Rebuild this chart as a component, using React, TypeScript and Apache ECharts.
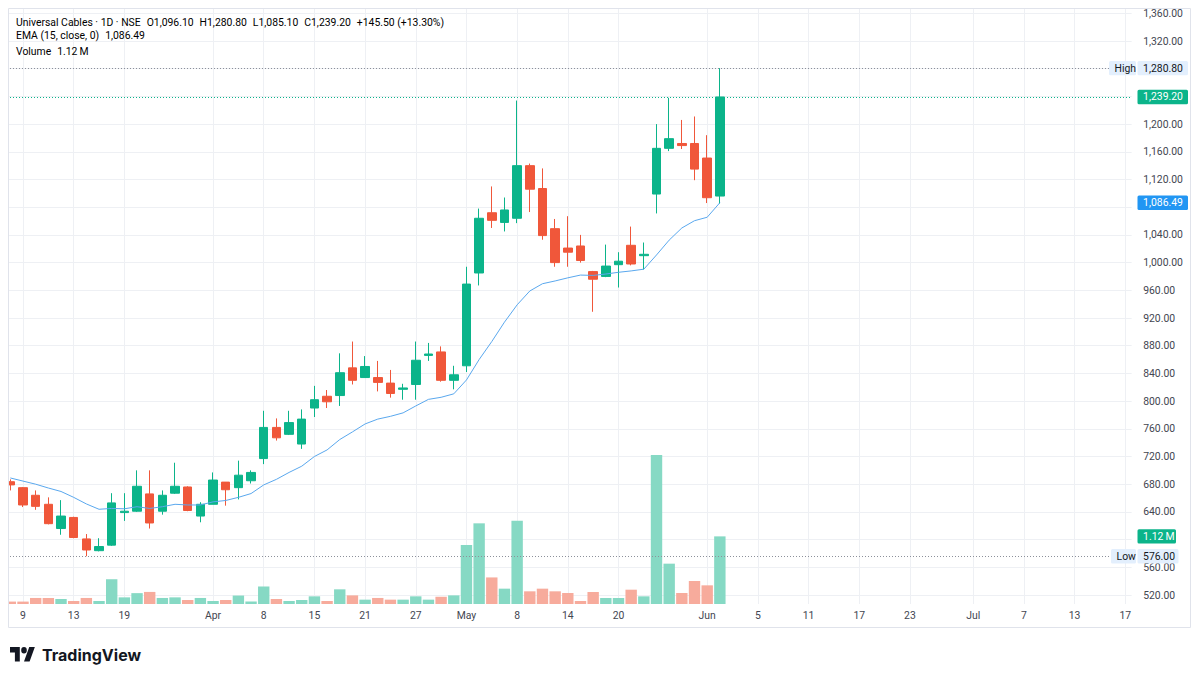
import React, { useEffect, useRef } from "react";
import * as echarts from "echarts";

// Daily sessions shown (NSE trading days)
const tradingDays = [
  "2026-03-06", "2026-03-09", "2026-03-10", "2026-03-11", "2026-03-12", "2026-03-13",
  "2026-03-16", "2026-03-17", "2026-03-18", "2026-03-19", "2026-03-20", "2026-03-23",
  "2026-03-24", "2026-03-25", "2026-03-27", "2026-03-30", "2026-04-01", "2026-04-02",
  "2026-04-06", "2026-04-07", "2026-04-08", "2026-04-09", "2026-04-10", "2026-04-13",
  "2026-04-15", "2026-04-16", "2026-04-17", "2026-04-20", "2026-04-21", "2026-04-22",
  "2026-04-23", "2026-04-24", "2026-04-27", "2026-04-28", "2026-04-29", "2026-04-30",
  "2026-05-04", "2026-05-05", "2026-05-06", "2026-05-07", "2026-05-08", "2026-05-11",
  "2026-05-12", "2026-05-13", "2026-05-14", "2026-05-15", "2026-05-18", "2026-05-19",
  "2026-05-20", "2026-05-21", "2026-05-22", "2026-05-25", "2026-05-26", "2026-05-27",
  "2026-05-29", "2026-06-01", "2026-06-02",
];

// Empty sessions to the right of the last bar
const futureDays = [
  "2026-06-03", "2026-06-04", "2026-06-05", "2026-06-08", "2026-06-09", "2026-06-10",
  "2026-06-11", "2026-06-12", "2026-06-15", "2026-06-16", "2026-06-17", "2026-06-18",
  "2026-06-19", "2026-06-22", "2026-06-23", "2026-06-24", "2026-06-25", "2026-06-29",
  "2026-06-30", "2026-07-01", "2026-07-02", "2026-07-03", "2026-07-06", "2026-07-07",
  "2026-07-08", "2026-07-09", "2026-07-10", "2026-07-13", "2026-07-14", "2026-07-15",
  "2026-07-16", "2026-07-17",
];

const opens = [
  683.6, 675, 664, 651, 616, 632, 601, 584, 592, 639, 641, 666, 641, 667, 676, 634,
  651, 683, 675, 685, 717, 762, 752, 738, 790, 807, 808, 848, 834, 834, 826, 817,
  824, 866, 871, 830, 851, 985, 1072, 1058, 1064, 1140, 1107, 1049, 1021, 1024, 987, 980,
  997, 1025, 1010, 1099, 1165, 1172, 1172, 1151, 1096.1,
];
const highs = [
  687, 676, 671, 661, 657, 633, 608, 602, 667, 667, 700, 700, 671, 711, 677, 654,
  697, 683, 714, 700, 786, 775, 786, 788, 822, 816, 869, 886, 865, 858, 845, 825,
  886, 884, 879, 851, 994, 1078, 1110, 1094, 1234, 1143, 1136, 1063, 1067, 1040, 988, 1026,
  1015, 1052, 1029, 1200, 1238, 1206, 1211, 1184, 1280.8,
];
const lows = [
  671, 647, 643, 622, 607, 602, 576, 583, 591, 627, 640, 616, 636, 666, 641, 625,
  651, 649, 658, 681, 709, 743, 751, 731, 777, 790, 793, 824, 834, 814, 805, 802,
  802, 858, 828, 817, 842, 967, 1050, 1045, 1057, 1073, 1033, 994, 994, 1000, 929, 979,
  964, 996, 990, 1071, 1161, 1164, 1119, 1086, 1085.1,
];
const closes = [
  679, 650, 648, 623, 634, 603, 585, 590, 653, 641, 677, 624, 664, 677, 642, 651,
  686, 672, 693, 697, 762, 747, 769, 774, 802, 799, 841, 830, 850, 827, 811, 819,
  859, 868, 830, 838, 969, 1064, 1061, 1076, 1140, 1106, 1039, 1000, 1015, 1003, 976, 995,
  1002, 998, 1012, 1165, 1179, 1169, 1135, 1093.7, 1239.2,
];

// EMA (15, close)
const emaValues = [
  689, 684.5, 680, 674.5, 669.5, 661, 651.5, 643.8, 645, 644.5, 647.5, 645, 647.5, 651, 650, 650,
  654.5, 656.5, 661, 666.5, 679, 687, 697, 706, 720, 729.5, 744.5, 755.5, 767, 774, 778, 783,
  793, 802.5, 805.5, 810.5, 830.5, 860, 886, 914, 939, 959, 969.5, 973.5, 978, 982, 981.5, 983.5,
  986, 988, 990.5, 1011, 1032.5, 1050, 1060.5, 1065.5, 1086.49,
];

// Volume, millions of shares
const volumes = [
  0.04, 0.04, 0.1, 0.1, 0.083, 0.05, 0.1, 0.05, 0.41, 0.11, 0.18, 0.2, 0.1, 0.11, 0.066, 0.1,
  0.05, 0.066, 0.14, 0.04, 0.29, 0.083, 0.05, 0.066, 0.127, 0.05, 0.243, 0.143, 0.072, 0.1, 0.072, 0.072,
  0.127, 0.072, 0.12, 0.143, 0.977, 1.336, 0.44, 0.254, 1.38, 0.21, 0.254, 0.21, 0.182, 0.05, 0.199, 0.099,
  0.099, 0.237, 0.127, 2.467, 0.668, 0.182, 0.381, 0.309, 1.12,
];

// Time-scale labels
const timeTicks: [string, string][] = [
  ["2026-03-09", "9"], ["2026-03-13", "13"], ["2026-03-19", "19"], ["2026-04-01", "Apr"],
  ["2026-04-08", "8"], ["2026-04-15", "15"], ["2026-04-21", "21"], ["2026-04-27", "27"],
  ["2026-05-04", "May"], ["2026-05-08", "8"], ["2026-05-14", "14"], ["2026-05-20", "20"],
  ["2026-06-01", "Jun"], ["2026-06-05", "5"], ["2026-06-11", "11"], ["2026-06-17", "17"],
  ["2026-06-23", "23"], ["2026-07-01", "Jul"], ["2026-07-07", "7"], ["2026-07-13", "13"],
  ["2026-07-17", "17"],
];

const SYMBOL = "Universal Cables · 1D · NSE";
const EMA_TITLE = "EMA (15, close, 0)";

const UP = "#0bb48a";
const DOWN = "#f0573a";
const UP_VOL = "#86d9c4";
const DOWN_VOL = "#f7ab9c";
const EMA_COLOR = "#5aa8ee";
const TEXT = "#434651";
const GRID = "#eef0f4";
const FONT = "Roboto, 'Noto Sans', sans-serif";
const FS = 10.4;

const fmt = (v: number) =>
  v.toLocaleString("en-US", { minimumFractionDigits: 2, maximumFractionDigits: 2 });

export default function App() {
  const ref = useRef<HTMLDivElement>(null);

  useEffect(() => {
    if (!ref.current) return;
    const chart = echarts.init(ref.current, null, { renderer: "svg" });

    const allDays = tradingDays.concat(futureDays);
    const tickMap = new Map(timeTicks);
    const barSlot = 12.67;
    const plotLeft = 4;
    const plotWidth = allDays.length * barSlot;
    const last = closes.length - 1;
    const hi = Math.max(...highs);
    const lo = Math.min(...lows);

    const priceLabel = {
      color: TEXT,
      fontSize: FS,
      fontFamily: FONT,
      margin: 11.5,
      align: "left",
    };

    chart.setOption({
      animation: false,
      grid: [
        { left: plotLeft, width: plotWidth, top: 13.3, height: 581.7 },
        { left: plotLeft, width: plotWidth, top: 8, height: 596 },
      ],
      xAxis: [
        {
          type: "category",
          gridIndex: 0,
          data: allDays,
          boundaryGap: true,
          show: false,
        },
        {
          type: "category",
          gridIndex: 1,
          data: allDays,
          boundaryGap: true,
          axisLine: { show: false },
          axisTick: { show: false },
          splitLine: { show: false },
          axisLabel: {
            interval: (_i: number, v: string) => tickMap.has(v),
            formatter: (v: string) => tickMap.get(v) ?? "",
            color: TEXT,
            fontSize: FS,
            fontFamily: FONT,
            margin: 6,
          },
        },
      ],
      yAxis: [
        {
          type: "value",
          gridIndex: 0,
          position: "right",
          min: 520,
          max: 1360,
          interval: 40,
          axisLine: { show: false },
          axisTick: { show: false },
          axisLabel: { ...priceLabel, formatter: (v: number) => fmt(v) },
          splitLine: { lineStyle: { color: GRID, width: 1 } },
        },
        {
          type: "value",
          gridIndex: 1,
          min: 0,
          max: 9.87,
          show: false,
        },
      ],
      series: [
        {
          // vertical time grid lines
          type: "line",
          xAxisIndex: 1,
          yAxisIndex: 1,
          data: [],
          z: 0,
          markLine: {
            z: 0,
            silent: true,
            symbol: ["none", "none"],
            label: { show: false },
            lineStyle: { color: GRID, width: 1, type: "solid" },
            data: timeTicks.map(([d]) => ({ xAxis: d })),
          },
        },
        {
          type: "bar",
          name: "Volume",
          xAxisIndex: 1,
          yAxisIndex: 1,
          barWidth: 11.4,
          z: 1,
          data: volumes.map((v, i) => ({
            value: v,
            itemStyle: { color: closes[i] >= opens[i] ? UP_VOL : DOWN_VOL },
          })),
        },
        {
          type: "candlestick",
          name: "Universal Cables",
          xAxisIndex: 0,
          yAxisIndex: 0,
          barWidth: 9,
          z: 3,
          data: opens.map((o, i) => [o, closes[i], lows[i], highs[i]]),
          itemStyle: {
            color: UP,
            color0: DOWN,
            borderColor: UP,
            borderColor0: DOWN,
            borderWidth: 1,
          },
          markLine: {
            silent: true,
            symbol: ["none", "none"],
            label: { show: false },
            data: [
              { yAxis: hi, lineStyle: { color: "#8c909a", width: 1, type: [1, 2] } },
              { yAxis: closes[last], lineStyle: { color: UP, width: 1, type: [1, 2] } },
              { yAxis: lo, lineStyle: { color: "#8c909a", width: 1, type: [1, 2] } },
            ],
          },
        },
        {
          type: "line",
          name: "EMA",
          xAxisIndex: 0,
          yAxisIndex: 0,
          data: emaValues,
          showSymbol: false,
          z: 4,
          lineStyle: { color: EMA_COLOR, width: 1 },
        },
      ],
    });

    const py = (v: number) => chart.convertToPixel({ yAxisIndex: 0 }, v) as number;
    const vy = (v: number) => chart.convertToPixel({ yAxisIndex: 1 }, v) as number;

    // Y positions of the price-scale badges; scale labels under them are hidden
    const badgeYs = [py(hi), py(closes[last]), py(emaValues[last]), vy(volumes[last]), py(lo)];
    const coveredByBadge = (v: number) => badgeYs.some((y) => Math.abs(py(v) - y) < 11);

    const badge = (x: number, yc: number, w: number, text: string, bg: string, fg: string) => [
      { type: "rect", z: 100, shape: { x, y: yc - 7.2, width: w, height: 14.4, r: 1.5 }, style: { fill: bg } },
      {
        type: "text",
        z: 101,
        style: { x: x + 5.6, y: yc, text, fill: fg, fontSize: FS, fontFamily: FONT, align: "left", verticalAlign: "middle" },
      },
    ];

    const change = closes[last] - closes[last - 1];
    const pct = (change / closes[last - 1]) * 100;
    const sign = change >= 0 ? "+" : "";
    const volText = `${volumes[last].toFixed(2)}\u2009M`;

    const richBase = { fontSize: FS, fontFamily: FONT };
    const rich = {
      t: { ...richBase, color: TEXT },
      k: { ...richBase, color: TEXT, padding: [0, 0, 0, 6] },
      g: { ...richBase, color: UP },
      c: { ...richBase, color: UP, padding: [0, 0, 0, 6] },
      b: { ...richBase, color: "#2196f3", padding: [0, 0, 0, 6] },
    };

    const logoPath =
      "M14 22H7V11H0V4h14v18zM28 22h-8l7.5-18h8L28 22zM16 8a4 4 0 1 0 8 0a4 4 0 1 0 -8 0z";
    echarts.graphic.registerShape("tvlogo", echarts.graphic.extendPath(logoPath, {}) as any);

    chart.setOption({
      yAxis: [
        {
          axisLabel: {
            ...priceLabel,
            formatter: (v: number) => (coveredByBadge(v) ? "" : fmt(v)),
          },
        },
        {},
      ],
      graphic: [
        // clip the first, partly hidden bar at the pane edge
        { type: "rect", z: 90, shape: { x: 0, y: 0, width: 8, height: 640 }, style: { fill: "#ffffff" } },
        { type: "rect", z: 90, shape: { x: 0, y: 0, width: 1200, height: 8 }, style: { fill: "#ffffff" } },
        {
          type: "rect",
          z: 95,
          shape: { x: 8.5, y: 8.5, width: 1182, height: 619 },
          style: { fill: "none", stroke: "#e0e3eb", lineWidth: 1 },
        },
        {
          type: "text",
          z: 110,
          style: {
            x: 16,
            y: 22,
            verticalAlign: "middle",
            text:
              `{t|${SYMBOL}}{k|O}{g|${fmt(opens[last])}}{k|H}{g|${fmt(highs[last])}}` +
              `{k|L}{g|${fmt(lows[last])}}{k|C}{g|${fmt(closes[last])}}` +
              `{c|${sign}${fmt(change)} (${sign}${pct.toFixed(2)}%)}`,
            rich,
          },
        },
        {
          type: "text",
          z: 110,
          style: { x: 16, y: 35.5, verticalAlign: "middle", text: `{t|${EMA_TITLE}}{b|${fmt(emaValues[last])}}`, rich },
        },
        {
          type: "text",
          z: 110,
          style: { x: 16, y: 51, verticalAlign: "middle", text: `{t|Volume}{c|${volText}}`, rich },
        },
        ...badge(1109, py(hi), 27, "High", "#e3effd", "#131722"),
        ...badge(1137.5, py(hi), 50.5, fmt(hi), "#e3effd", "#131722"),
        ...badge(1137.5, py(closes[last]), 50.5, fmt(closes[last]), UP, "#ffffff"),
        ...badge(1137.5, py(emaValues[last]), 50.5, fmt(emaValues[last]), "#2196f3", "#ffffff"),
        ...badge(1137.5, vy(volumes[last]), 38.5, volText, UP, "#ffffff"),
        ...badge(1111, py(lo), 25, "Low", "#e3effd", "#131722"),
        ...badge(1137.5, py(lo), 41, fmt(lo), "#e3effd", "#131722"),
        {
          type: "tvlogo",
          z: 110,
          x: 10,
          y: 643.8,
          scaleX: 0.7,
          scaleY: 0.8,
          style: { fill: "#131722" },
        },
        {
          type: "text",
          z: 110,
          style: {
            x: 42,
            y: 654.5,
            text: "TradingView",
            fill: "#131722",
            fontSize: 16,
            fontWeight: 700,
            fontFamily: "Inter, Roboto, sans-serif",
            verticalAlign: "middle",
          },
        },
      ],
    });

    return () => chart.dispose();
  }, []);

  return (
    <div
      ref={ref}
      style={{ position: "fixed", left: 0, top: 0, width: 1200, height: 680, background: "#ffffff" }}
    />
  );
}
